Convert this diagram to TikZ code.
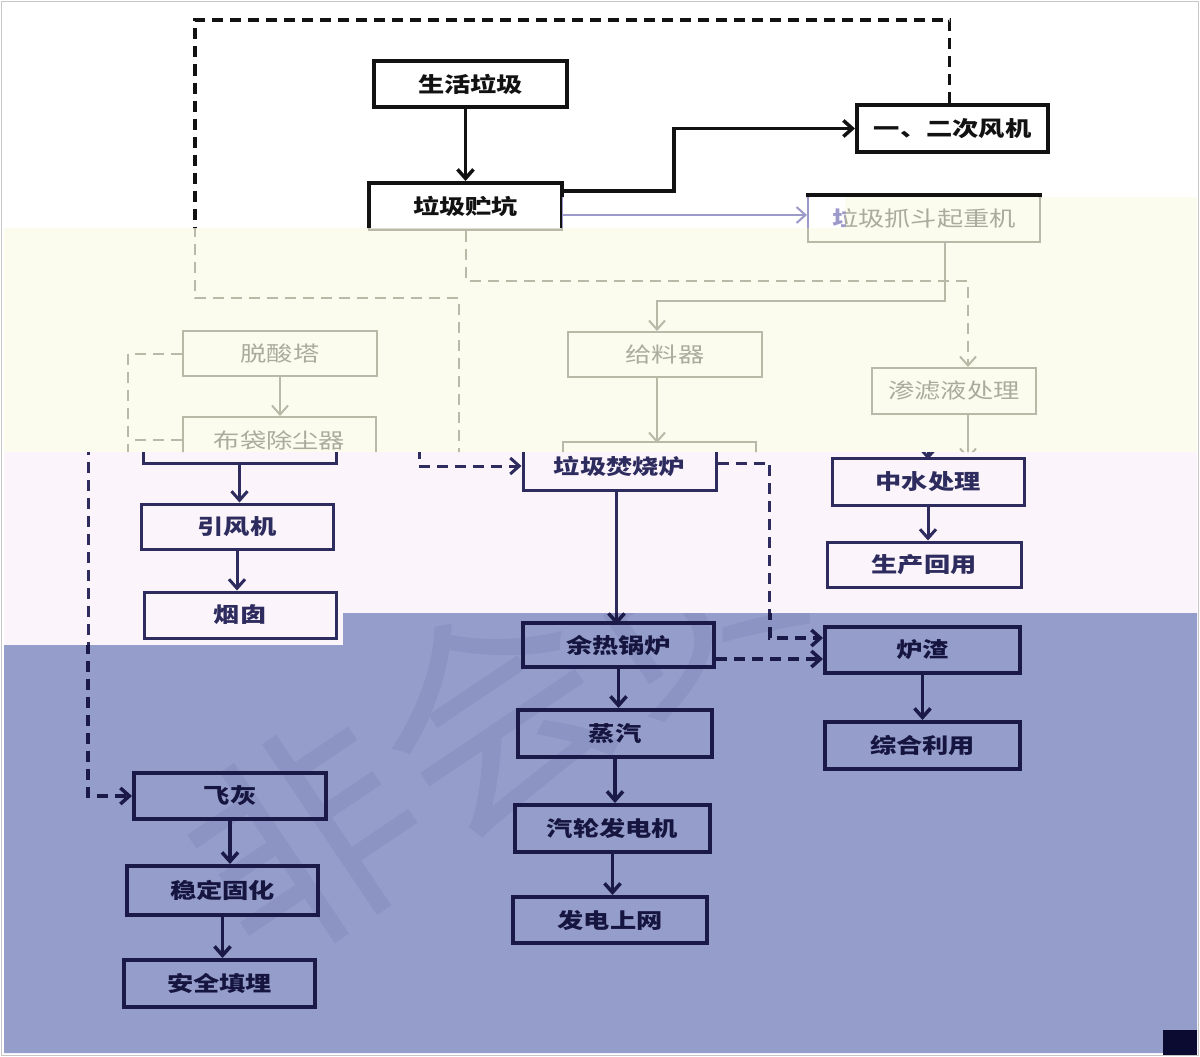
\documentclass[tikz,border=0pt]{standalone}
\usepackage{fontspec}
\usepackage{graphicx}
\usetikzlibrary{arrows.meta}
\newfontfamily\cjk{Noto Sans CJK SC}
\definecolor{bgB}{HTML}{FCFCEE}
\definecolor{bgC}{HTML}{FBF5FB}
\definecolor{bgD}{HTML}{959DCA}
\definecolor{wm}{HTML}{8C94C3}
\definecolor{corner}{HTML}{0B0A30}
\colorlet{ink}{black}
\colorlet{txt}{black}
\newcommand\lblfont{\cjk\bfseries}
\newcommand\lbl[1]{\scalebox{1.25}[1]{\fontsize{21}{24}\selectfont\lblfont #1}}
\newcommand\blw{4pt}
\newcommand\clw{3pt}
\tikzset{
  box/.style={draw=ink, line width=\blw, rectangle, inner sep=0pt, text=txt},
  ln/.style={draw=ink, line width=\clw},
  arr/.style={ln, -{Straight Barb[length=9pt,width=16pt]}},
  dln/.style={ln, dash pattern=on 11pt off 7pt},
  darr/.style={dln, -{Straight Barb[length=9pt,width=16pt]}},
}
% name, cx, cy, width, height, text
\newcommand\bx[6]{\node[box, minimum width=#4pt, minimum height=#5pt] (#1) at (#2,#3) {\lbl{#6}};}
\newcommand\drawdiagram{%
  \bx{life}{470.5}{84}{193}{46}{生活垃圾}
  \bx{fan}{952.5}{128.5}{191}{47}{一、二次风机}
  \bx{pit}{465.5}{206.5}{193}{47}{垃圾贮坑}
  \bx{crane}{924}{218.5}{232}{47}{垃圾抓斗起重机}
  \bx{tuo}{280}{353.5}{194}{45}{脱酸塔}
  \bx{bag}{279.5}{440}{193}{46}{布袋除尘器}
  \bx{feed}{665}{354.5}{194}{45}{给料器}
  \bx{leach}{954}{391}{164}{46}{渗滤液处理}
  \bx{furn}{659.5}{466}{193}{48}{垃圾焚烧炉}
  \bx{fantwo}{277}{526.5}{192}{45}{引风机}
  \bx{yan}{280}{615}{192}{46}{烟囱}
  \bx{zs}{968}{481.5}{192}{47}{中水处理}
  \bx{hy}{964}{564.5}{194}{45}{生产回用}
  \bx{boil}{658.5}{645}{191}{44}{余热锅炉}
  \bx{slag}{962.5}{650}{195}{46}{炉渣}
  \bx{steam}{655}{733.5}{194}{47}{蒸汽}
  \bx{use}{962.5}{745.5}{195}{47}{综合利用}
  \bx{ash}{270}{796}{192}{46}{飞灰}
  \bx{gen}{652.5}{828.5}{195}{47}{汽轮发电机}
  \bx{stab}{262.5}{890.5}{191}{49}{稳定固化}
  \bx{grid}{650}{920}{194}{46}{发电上网}
  \bx{bury}{259.5}{983.5}{191}{47}{安全填埋}
  % solid connectors
  \draw[arr] (pit.north |- life.south) -- (pit.north);
  \draw[arr] ([yshift=-10pt]pit.north east) -- ++(110,0) |- (fan.west);
  \coordinate (q) at ([yshift=-8.5pt]pit.east);
  \draw[arr] (q) -- (q -| crane.west);
  \draw[arr] ([xshift=21pt]crane.south) -- ++(0,58) -| ([xshift=-8pt]feed.north);
  \draw[arr] ([xshift=-8pt]feed.south) -- ++(0,65);
  \draw[arr] (tuo.south) -- (tuo.south |- bag.north);
  \draw[arr] ([xshift=14pt]leach.south) -- ++(0,44);
  \draw[arr] (bag.south) -- (bag.south |- fantwo.north);
  \draw[arr] (fantwo.south) -- (fantwo.south |- yan.north);
  \draw[arr] ([xshift=-3pt]furn.south) -- ++(0,133);
  \draw[arr] (zs.south) -- (zs.south |- hy.north);
  \draw[arr] (boil.south) -- (boil.south |- steam.north);
  \draw[arr] (steam.south) -- (steam.south |- gen.north);
  \draw[arr] (gen.south) -- (gen.south |- grid.north);
  \draw[arr] (slag.south) -- (slag.south |- use.north);
  \draw[arr] (ash.south) -- (ash.south |- stab.north);
  \draw[arr] (stab.south) -- (stab.south |- bury.north);
  % dashed connectors
  \draw[darr] ([xshift=-3pt]fan.north) |- (195,20) |- (459,298) |- (furn.west);
  \draw[darr] (pit.south) -- ++(0,50) -| ([xshift=14pt]leach.north);
  \draw[darr] (tuo.west) -- (128,353.5) |- (ash.west);
  \draw[dln] (bag.west) -- (128,440);
  \draw[darr] ([yshift=3pt]furn.east) -- ++(52,0) |- ([yshift=12pt]slag.west);
  \coordinate (b1) at ([yshift=-14pt]boil.east);
  \draw[darr] (b1) -- (b1 -| slag.west);
}
\begin{document}
\begin{tikzpicture}[x=1pt,y=-1pt]
\useasboundingbox (0,0) rectangle (1200,1057);
% backgrounds
\fill[white] (0,0) rectangle (1200,1057);
\fill[bgB] (4,228) rectangle (1197,452);
\fill[bgB] (845,197) rectangle (1197,228);
\fill[bgC] (4,452) rectangle (1197,613);
\fill[bgC] (4,613) rectangle (343,645);
\fill[bgD] (343,613) -- (1197,613) -- (1197,1053) -- (4,1053) -- (4,645) -- (343,645) -- cycle;
% watermark
\begin{scope}
  \clip (343,613) -- (1197,613) -- (1197,1053) -- (4,1053) -- (4,645) -- (343,645) -- cycle;
  \node[rotate=34, text=wm, inner sep=0pt] (wmark) at (492,714) {\fontsize{225}{225}\selectfont\cjk 非会员};
\end{scope}
% band A (top, white)
\begin{scope}
  \clip (0,0) -- (1200,0) -- (1200,197) -- (562,197) -- (562,228) -- (0,228) -- cycle;
  \colorlet{ink}{black!93}\colorlet{txt}{black!93}
  \renewcommand\clw{3.5pt}
  \drawdiagram
\end{scope}
% band A2 (faded strip)
\begin{scope}
  \clip (562,197) rectangle (845,228);
  \definecolor{ink}{HTML}{9C9ACA}\colorlet{txt}{ink}
  \renewcommand\blw{2pt}\renewcommand\clw{2pt}
  \drawdiagram
\end{scope}
% band B (yellow, faded)
\begin{scope}
  \clip (0,228) rectangle (1200,452) (845,197) rectangle (1200,228);
  \definecolor{ink}{HTML}{B8B9A7}\definecolor{txt}{HTML}{ABAB9C}
  \renewcommand\blw{2pt}\renewcommand\clw{2pt}
  \renewcommand\lblfont{\cjk}
  \drawdiagram
\end{scope}
% band C (pink, shifted)
\begin{scope}
  \clip (0,452) rectangle (1200,613) (0,613) rectangle (343,645);
  \begin{scope}[xshift=-40pt]
    \definecolor{ink}{HTML}{2E2C5E}\colorlet{txt}{ink}
    \renewcommand\blw{3pt}\renewcommand\clw{3pt}
    \drawdiagram
  \end{scope}
\end{scope}
% band D (blue, shifted)
\begin{scope}
  \clip (343,613) -- (1200,613) -- (1200,1053) -- (0,1053) -- (0,645) -- (343,645) -- cycle;
  \begin{scope}[xshift=-40pt]
    \definecolor{ink}{HTML}{1A1947}\definecolor{txt}{HTML}{161540}
    \renewcommand\blw{4pt}\renewcommand\clw{3.5pt}
    \drawdiagram
  \end{scope}
\end{scope}
\fill[corner] (1163,1030) rectangle (1197,1055);
\draw[black!22, line width=1.5pt] (1.5,1.5) rectangle (1198.5,1055.5);
\end{tikzpicture}
\end{document}
